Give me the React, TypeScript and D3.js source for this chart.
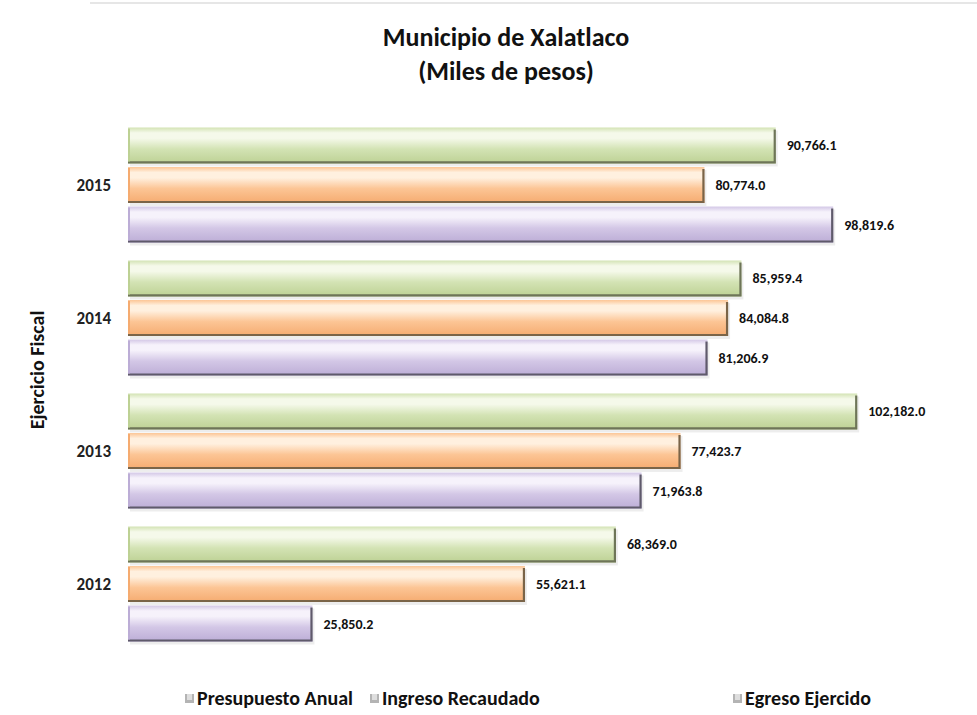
import * as d3 from 'd3';
import { useEffect, useRef } from 'react';

const years = ['2015', '2014', '2013', '2012'];
const series = ['Presupuesto Anual', 'Ingreso Recaudado', 'Egreso Ejercido'];
const presupuesto = [90766.1, 85959.4, 102182.0, 68369.0];
const ingreso = [80774.0, 84084.8, 77423.7, 55621.1];
const egreso = [98819.6, 81206.9, 71963.8, 25850.2];

const colors = [
  { top: '#f5f9ea', mid: '#d3e3b4', bot: '#bdd194', edge: '#6e7558' },
  { top: '#fff0df', mid: '#fcc595', bot: '#f5ab70', edge: '#7a6448' },
  { top: '#f6f2fb', mid: '#d3c7e6', bot: '#bcadd6', edge: '#5f5a6b' },
];

const W = 977;
const H = 715;
const FONT = "Carlito, 'Liberation Sans Narrow', 'Open Sans', sans-serif";

const App = () => {
  const svgRef = useRef(null);

  useEffect(() => {
    const svg = d3.select(svgRef.current);
    svg.selectAll('*').remove();
    svg.attr('width', W).attr('height', H).style('background', '#fff');

    const data = years.map((y, i) => ({
      year: y,
      values: [presupuesto[i], ingreso[i], egreso[i]],
    }));

    const yScale = d3.scaleBand().domain(years).range([118.5, 650.5]).padding(0);
    const inner = d3
      .scaleBand()
      .domain(series)
      .range([9, 124])
      .paddingInner(0.09);
    const xScale = d3.scaleLinear().domain([0, 110000]).range([128, 913]);

    // gradients
    const defs = svg.append('defs');
    colors.forEach((c, i) => {
      const g = defs
        .append('linearGradient')
        .attr('id', `grad${i}`)
        .attr('x1', 0)
        .attr('y1', 0)
        .attr('x2', 0)
        .attr('y2', 1);
      g.append('stop').attr('offset', '0%').attr('stop-color', c.mid);
      g.append('stop').attr('offset', '15%').attr('stop-color', c.top);
      g.append('stop').attr('offset', '30%').attr('stop-color', c.top);
      g.append('stop').attr('offset', '60%').attr('stop-color', c.mid);
      g.append('stop').attr('offset', '100%').attr('stop-color', c.bot);
    });

    // faint line at top
    svg
      .append('line')
      .attr('x1', 90)
      .attr('x2', W)
      .attr('y1', 3)
      .attr('y2', 3)
      .attr('stroke', '#e6e6e6')
      .attr('stroke-width', 2);

    // title
    svg
      .selectAll('.title')
      .data(['Municipio de Xalatlaco', '(Miles de pesos)'])
      .join('text')
      .attr('class', 'title')
      .attr('x', 506)
      .attr('y', (d, i) => 46 + i * 34)
      .attr('text-anchor', 'middle')
      .style('font-family', FONT)
      .style('font-weight', 'bold')
      .style('font-size', '26px')
      .style('fill', '#111')
      .text((d) => d);

    // axis title
    svg
      .append('text')
      .attr('transform', 'translate(44, 370) rotate(-90)')
      .attr('text-anchor', 'middle')
      .style('font-family', FONT)
      .style('font-weight', 'bold')
      .style('font-size', '20px')
      .style('fill', '#111')
      .text('Ejercicio Fiscal');

    // year labels
    svg
      .selectAll('.ylabel')
      .data(years)
      .join('text')
      .attr('class', 'ylabel')
      .attr('x', 111)
      .attr('y', (d) => yScale(d) + yScale.bandwidth() / 2 + 6)
      .attr('text-anchor', 'end')
      .style('font-family', FONT)
      .style('font-weight', 'bold')
      .style('font-size', '17px')
      .style('fill', '#222')
      .text((d) => d);

    const groups = svg
      .selectAll('.group')
      .data(data)
      .join('g')
      .attr('class', 'group')
      .attr('transform', (d) => `translate(0, ${yScale(d.year)})`);

    const bars = groups
      .selectAll('.bar')
      .data((d) => d.values.map((v, i) => ({ v, i, s: series[i] })))
      .join('g')
      .attr('class', 'bar');

    const bh = inner.bandwidth();

    // soft shadow
    bars
      .append('rect')
      .attr('x', xScale(0) + 2)
      .attr('y', (d) => inner(d.s) + 3)
      .attr('width', (d) => xScale(d.v) - xScale(0))
      .attr('height', bh)
      .style('fill', '#000')
      .style('opacity', 0.07);

    bars
      .append('rect')
      .attr('x', xScale(0))
      .attr('y', (d) => inner(d.s))
      .attr('width', (d) => xScale(d.v) - xScale(0))
      .attr('height', bh)
      .style('fill', (d) => `url(#grad${d.i})`);

    // bevel edges: bottom & right dark
    bars
      .append('path')
      .attr('d', (d) => {
        const x0 = xScale(0);
        const x1 = xScale(d.v);
        const y0 = inner(d.s);
        return `M${x1 - 1},${y0 + 2} L${x1 - 1},${y0 + bh - 1} L${x0},${y0 + bh - 1}`;
      })
      .style('fill', 'none')
      .style('stroke', (d) => colors[d.i].edge)
      .style('stroke-width', 2.2);

    bars
      .append('line')
      .attr('x1', xScale(0) + 1)
      .attr('x2', xScale(0) + 1)
      .attr('y1', (d) => inner(d.s) + 1)
      .attr('y2', (d) => inner(d.s) + bh - 2)
      .style('stroke', (d) => colors[d.i].bot)
      .style('stroke-width', 2);

    // value labels
    bars
      .append('text')
      .attr('x', (d) => xScale(d.v) + 11)
      .attr('y', (d) => inner(d.s) + bh / 2 + 5)
      .style('font-family', FONT)
      .style('font-weight', 'bold')
      .style('font-size', '14px')
      .style('fill', '#111')
      .text((d) => d3.format(',.1f')(d.v));

    // legend
    const legendX = [185, 370, 733];
    const legend = svg
      .selectAll('.legend')
      .data(series)
      .join('g')
      .attr('class', 'legend')
      .attr('transform', (d, i) => `translate(${legendX[i]}, 705)`);

    legend
      .append('rect')
      .attr('x', 0)
      .attr('y', -11)
      .attr('width', 9)
      .attr('height', 9)
      .style('fill', '#b4b4b4');
    legend
      .append('rect')
      .attr('x', 2)
      .attr('y', -11)
      .attr('width', 5)
      .attr('height', 6)
      .style('fill', '#dedede');

    legend
      .append('text')
      .attr('x', 12)
      .attr('y', 0)
      .style('font-family', FONT)
      .style('font-weight', 'bold')
      .style('font-size', '20px')
      .style('fill', '#111')
      .text((d) => d);
  }, []);

  return (
    <div style={{ position: 'absolute', left: 0, top: 0 }}>
      <svg ref={svgRef} style={{ display: 'block' }}></svg>
    </div>
  );
};

export default App;
